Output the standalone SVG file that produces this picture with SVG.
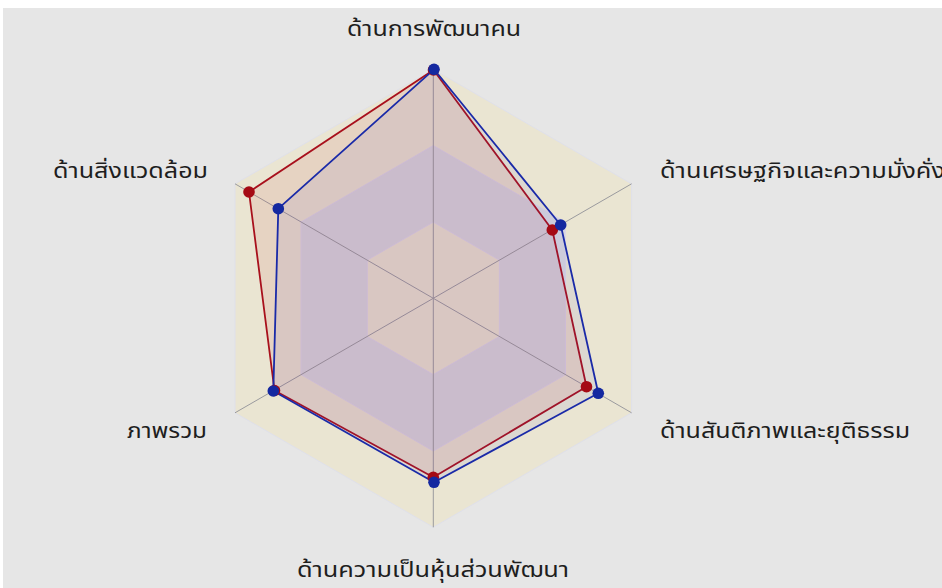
<svg xmlns="http://www.w3.org/2000/svg" width="942" height="588" viewBox="0 0 942 588">
<style>
  .lbl { font-family: "Noto Sans Thai", "Noto Sans", "DejaVu Sans", sans-serif; font-size: 21px; fill: #1e1e1e; }
  .axis { stroke: #9a9a9e; stroke-width: 1; fill: none; }
  .band-out { fill: #eae5d2; stroke: #dfe0ea; stroke-width: 1; }
  .band-mid { fill: #d8d7dd; stroke: #dcd6e8; stroke-width: 1; }
  .band-in { fill: #eae5d2; stroke: #dcd6e8; stroke-width: 1; }
  .red-area { fill: rgb(200,60,60); fill-opacity: 0.1; stroke: #a8101c; stroke-width: 1.8; stroke-linejoin: round; }
  .blue-area { fill: rgb(60,60,200); fill-opacity: 0.08; stroke: #1a2aa8; stroke-width: 1.8; stroke-linejoin: round; }
  .red-pt { fill: #a50a14; }
  .blue-pt { fill: #1428a0; }
</style>
<rect x="0" y="0" width="942" height="588" fill="#ffffff"/>
<rect x="3" y="8" width="939" height="580" fill="#e6e6e6"/>
<g id="grid">
  <polygon class="band-out" points="433.3,69.3 631.6,183.8 631.6,412.8 433.3,527.3 235,412.8 235,183.8"/>
  <polygon class="band-mid" points="433.3,145.6 565.5,222 565.5,374.6 433.3,451 301.1,374.6 301.1,222"/>
  <polygon class="band-in" points="433.3,222 499.4,260.1 499.4,336.5 433.3,374.6 367.2,336.5 367.2,260.1"/>
</g>
<g id="connectors">
  <line class="axis" x1="433.3" y1="298.3" x2="433.3" y2="69.3"/>
  <line class="axis" x1="433.3" y1="298.3" x2="631.6" y2="183.8"/>
  <line class="axis" x1="433.3" y1="298.3" x2="631.6" y2="412.8"/>
  <line class="axis" x1="433.3" y1="298.3" x2="433.3" y2="527.3"/>
  <line class="axis" x1="433.3" y1="298.3" x2="235" y2="412.8"/>
  <line class="axis" x1="433.3" y1="298.3" x2="235" y2="183.8"/>
</g>
<g id="series-red">
  <polygon class="red-area" points="433.5,70 552.3,230 586.5,386.7 433.3,477.3 274.5,390.5 249,192"/>
</g>
<g id="series-blue">
  <polygon class="blue-area" points="434,69.3 560.7,225 598.3,393.3 434,482.3 273.3,391 278.3,208.7"/>
</g>
<g id="points-red">
  <circle class="red-pt" cx="433.5" cy="70" r="5.8"/>
  <circle class="red-pt" cx="552.3" cy="230" r="5.8"/>
  <circle class="red-pt" cx="586.5" cy="386.7" r="5.8"/>
  <circle class="red-pt" cx="433.3" cy="477.3" r="5.8"/>
  <circle class="red-pt" cx="274.5" cy="390.5" r="5.8"/>
  <circle class="red-pt" cx="249" cy="192" r="5.8"/>
</g>
<g id="points-blue">
  <circle class="blue-pt" cx="434" cy="69.3" r="5.8"/>
  <circle class="blue-pt" cx="560.7" cy="225" r="5.8"/>
  <circle class="blue-pt" cx="598.3" cy="393.3" r="5.8"/>
  <circle class="blue-pt" cx="434" cy="482.3" r="5.8"/>
  <circle class="blue-pt" cx="273.3" cy="391" r="5.8"/>
  <circle class="blue-pt" cx="278.3" cy="208.7" r="5.8"/>
</g>
<g id="label-top"><text class="lbl" x="347" y="36" textLength="174" lengthAdjust="spacingAndGlyphs">ด้านการพัฒนาคน</text></g>
<g id="label-upper-right"><text class="lbl" x="660" y="178" textLength="285" lengthAdjust="spacingAndGlyphs">ด้านเศรษฐกิจและความมั่งคั่ง</text></g>
<g id="label-lower-right"><text class="lbl" x="660" y="438" textLength="250" lengthAdjust="spacingAndGlyphs">ด้านสันติภาพและยุติธรรม</text></g>
<g id="label-bottom"><text class="lbl" x="297" y="577" textLength="272" lengthAdjust="spacingAndGlyphs">ด้านความเป็นหุ้นส่วนพัฒนา</text></g>
<g id="label-lower-left"><text class="lbl" x="127" y="438" textLength="80" lengthAdjust="spacingAndGlyphs">ภาพรวม</text></g>
<g id="label-upper-left"><text class="lbl" x="53" y="178" textLength="155" lengthAdjust="spacingAndGlyphs">ด้านสิ่งแวดล้อม</text></g>
</svg>
